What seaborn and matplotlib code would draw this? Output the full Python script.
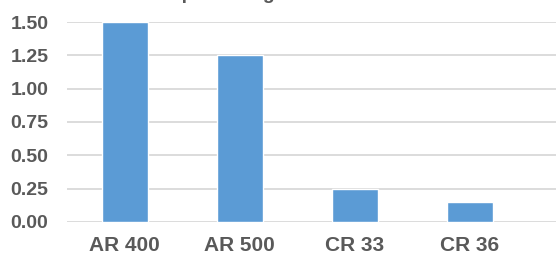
import pandas as pd
import seaborn as sns
import matplotlib.pyplot as plt

steels = ["AR 400", "AR 500", "CR 33", "CR 36"]
values = [1.50, 1.25, 0.25, 0.15]
yticks = [0.00, 0.25, 0.50, 0.75, 1.00, 1.25, 1.50]

df = pd.DataFrame({"Steel": steels, "Value": values})

sns.set_theme(style="white")
plt.rcParams['font.family'] = ['Liberation Sans', 'DejaVu Sans']

fig = plt.figure(figsize=(5.56, 2.56), dpi=100)
ax = fig.add_axes([67 / 556, 34 / 256, 489 / 556, 200 / 256])

sns.barplot(data=df, x="Steel", y="Value", color="#5b9bd5", width=0.4,
            saturation=1, ax=ax, zorder=3)

ax.set_xlim(-0.5, 3.75)
ax.set_ylim(0, 1.5)
ax.set_yticks(yticks)
ax.set_yticklabels([f"{v:.2f}" for v in yticks])
ax.yaxis.grid(True, color="#d9d9d9", linewidth=1.3, zorder=0)
ax.set_axisbelow(True)
for s in ax.spines.values():
    s.set_visible(False)
ax.set_xlabel("")
ax.set_ylabel("")
ax.tick_params(axis="y", length=0, pad=13.5, labelsize=14, labelcolor="#595959")
ax.tick_params(axis="x", length=0, pad=10, labelsize=15, labelcolor="#595959")
for lbl in ax.get_xticklabels() + ax.get_yticklabels():
    lbl.set_fontweight("bold")

# title mostly above the visible area, only its lower edge shows
fig.text(269 / 556, 1 - 3 / 256, "Wear percentage of each steel", ha="center", va="bottom",
         fontsize=14, fontweight="bold", color="#595959")

fig.savefig("out.png", dpi=100)
